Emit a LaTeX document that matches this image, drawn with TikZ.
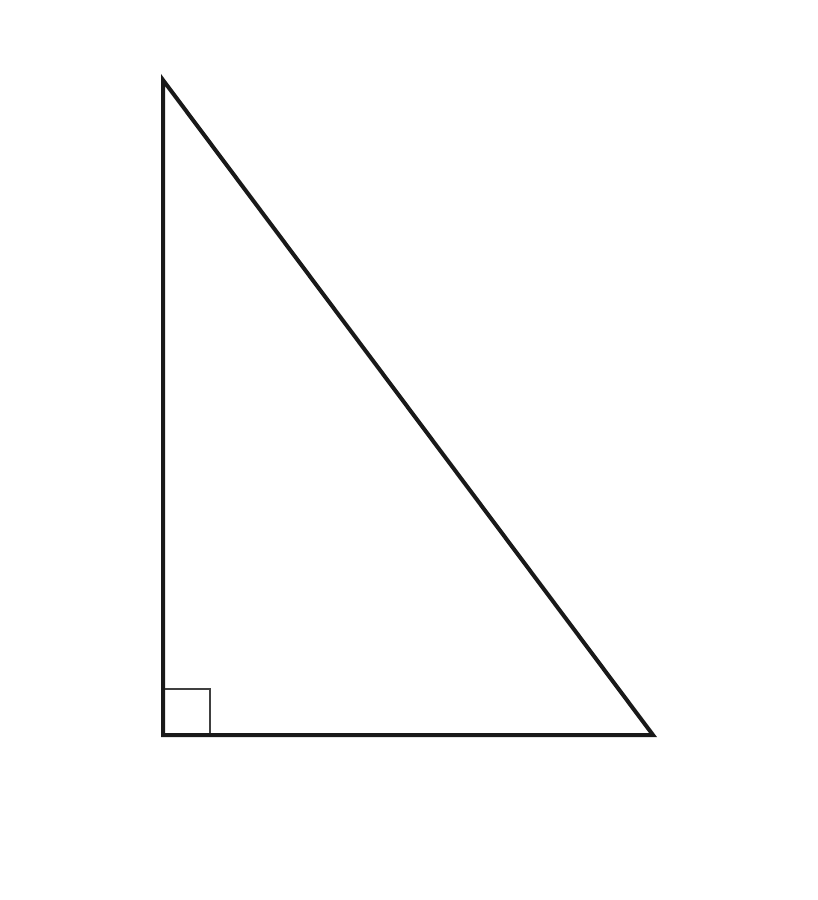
\documentclass[tikz,border=0pt]{standalone}
\begin{document}
\begin{tikzpicture}[x=1pt,y=-1pt,
  edge/.style={line width=4pt,line join=miter,black!90},
  anglemark/.style={line width=1.5pt,black!75}]
\useasboundingbox (0,0) rectangle (817,900);
\coordinate (A) at (163,80);
\coordinate (B) at (163,735);
\coordinate (C) at (653,735);
\draw[anglemark] (163,689) -- (210,689) -- (210,735);
\draw[edge] (A) -- (B) -- (C) -- cycle;
\end{tikzpicture}
\end{document}
